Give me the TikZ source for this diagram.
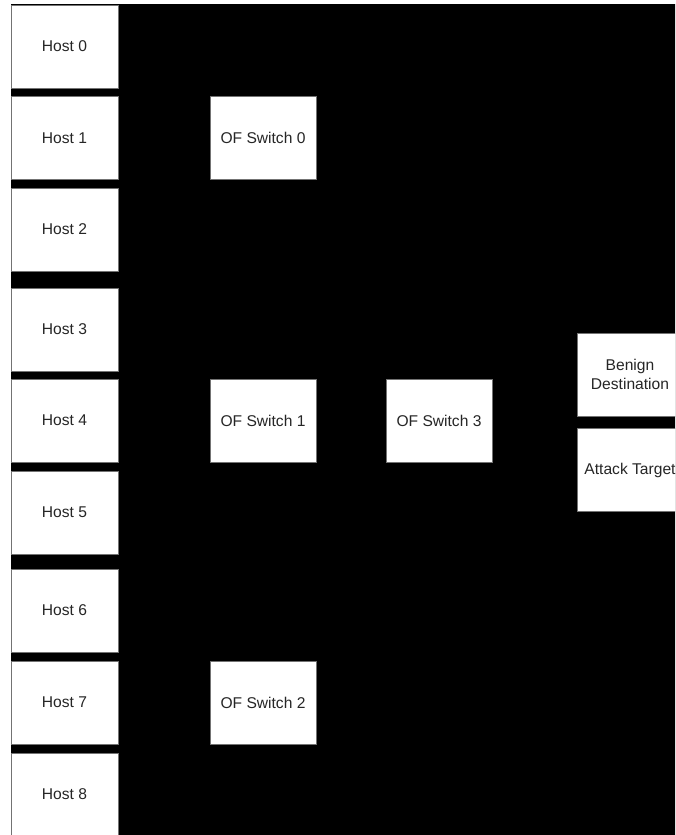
\documentclass[tikz,border=0pt]{standalone}
\usepackage{fontspec}
\setmainfont{Liberation Sans}
\begin{document}
\begin{tikzpicture}[x=1pt,y=-1pt,
  box/.style={draw=black!55,fill=white,line width=0.7pt,inner sep=0pt,outer sep=0pt,
    minimum width=107pt,minimum height=83pt,align=center,
    font=\fontsize{15.6}{19}\selectfont,text=black!85}]
\useasboundingbox (0,0) rectangle (675,835);
\clip (0,0) rectangle (675,835);
\fill[white] (0,0) rectangle (675,835);
\fill[black] (11,4) rectangle (680,840);
% hosts
\node[box] (h0) at (64.5,46.5) {Host 0};
\node[box] (h1) at (64.5,138) {Host 1};
\node[box] (h2) at (64.5,229.5) {Host 2};
\node[box] (h3) at (64.5,329.5) {Host 3};
\node[box] (h4) at (64.5,420.5) {Host 4};
\node[box] (h5) at (64.5,512.5) {Host 5};
\node[box] (h6) at (64.5,610.5) {Host 6};
\node[box] (h7) at (64.5,702.5) {Host 7};
\node[box] (h8) at (64.5,794.5) {Host 8};
% switches
\node[box,minimum width=106pt] (s0) at (263,138) {OF Switch 0};
\node[box,minimum width=106pt] (s1) at (263,420.5) {OF Switch 1};
\node[box,minimum width=106pt] (s2) at (263,702.5) {OF Switch 2};
\node[box,minimum width=106pt] (s3) at (439,420.5) {OF Switch 3};
% destinations
\node[box,minimum width=106pt] (bd) at (630,374.5) {Benign\\Destination};
\node[box,minimum width=106pt] (at) at (630,470) {Attack Target};
\end{tikzpicture}
\end{document}
